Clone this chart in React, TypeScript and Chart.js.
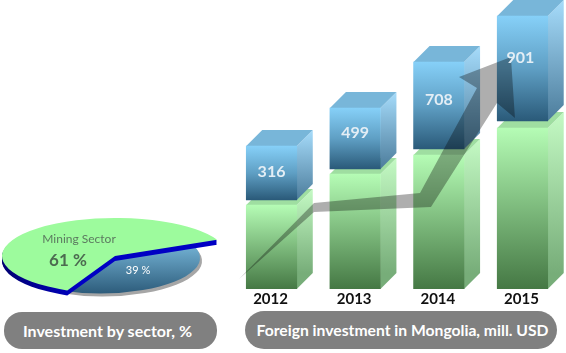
import React, { useEffect, useRef } from "react";
import { Chart, registerables } from "chart.js";

Chart.register(...registerables);

// Pie
const sectorNames = ["Mining Sector", "Other"];
const sectorShares = [61, 39];

// Columns (heights, in picture units)
const years = ["2012", "2013", "2014", "2015"];
const investmentLabels = ["316", "499", "708", "901"];
const greenTop = [84, 115, 134, 161];
const blueBase = [89, 120, 140, 168];
const blueTop = [143, 181, 227, 273];

// Growth arrow outline, x in category index, y in value units
const arrowX = [-0.388, 0.508, 1.775, 2.456, 2.241, 2.862, 2.91, 2.695, 1.906, 0.508];
const arrowY = [10, 86, 96, 201, 212, 232, 171, 186, 82, 77];

const FONT = "Lato, 'Open Sans', sans-serif";
const DEPTH = 16;
const LABEL_FRACTION = [0.48, 0.41, 0.43, 0.4];

function vGrad(ctx: CanvasRenderingContext2D, y0: number, y1: number, stops: string[]) {
  if (!Number.isFinite(y0) || !Number.isFinite(y1)) return stops[0] as any;
  const g = ctx.createLinearGradient(0, y0, 0, y1);
  stops.forEach((c, i) => g.addColorStop(i / (stops.length - 1), c));
  return g;
}

const columns3d = {
  id: "columns3d",
  beforeDatasetDraw(chart: any, args: any) {
    const { ctx } = chart;
    const isBlue = args.index === 0;
    const bars = chart.getDatasetMeta(args.index).data;
    bars.forEach((bar: any) => {
      const l = bar.x - bar.width / 2;
      const r = bar.x + bar.width / 2;
      const t = bar.y;
      const b = bar.base;
      ctx.save();
      ctx.fillStyle = isBlue
        ? vGrad(ctx, t - DEPTH, b, ["#a6dcfb", "#4c7c9b"])
        : vGrad(ctx, t - DEPTH, b - DEPTH, ["#c4fac4", "#77ad79"]);
      ctx.beginPath();
      ctx.moveTo(r, t);
      ctx.lineTo(r + DEPTH, t - DEPTH);
      ctx.lineTo(r + DEPTH, b - DEPTH);
      ctx.lineTo(r, b);
      ctx.closePath();
      ctx.fill();
      ctx.fillStyle = isBlue ? "#78b6d9" : "#9fdea1";
      ctx.beginPath();
      ctx.moveTo(l, t);
      ctx.lineTo(l + DEPTH, t - DEPTH);
      ctx.lineTo(r + DEPTH, t - DEPTH);
      ctx.lineTo(r, t);
      ctx.closePath();
      ctx.fill();
      ctx.restore();
    });
  },
  afterDatasetsDraw(chart: any) {
    const { ctx, scales } = chart;
    ctx.save();
    ctx.globalCompositeOperation = "multiply";
    ctx.fillStyle = "#aeaeae";
    ctx.beginPath();
    arrowX.forEach((v, i) => {
      const px = scales.x.getPixelForValue(v);
      const py = scales.y.getPixelForValue(arrowY[i]);
      if (i === 0) ctx.moveTo(px, py);
      else ctx.lineTo(px, py);
    });
    ctx.closePath();
    ctx.fill();
    ctx.restore();

    ctx.save();
    ctx.font = `bold 16px ${FONT}`;
    ctx.fillStyle = "#e4eef5";
    ctx.textAlign = "center";
    ctx.textBaseline = "middle";
    chart.getDatasetMeta(0).data.forEach((bar: any, i: number) => {
      const y = bar.y + (bar.base - bar.y) * LABEL_FRACTION[i];
      ctx.fillText(investmentLabels[i], bar.x - (i === 3 ? 2 : 0), y);
    });
    ctx.restore();
  },
};

const GREEN_Y = 56;
const GREEN_SQUASH = 0.336;
const BLUE_DX = -15;
const BLUE_Y = 58;
const BLUE_SQUASH = 0.354;
const BLUE_RX = 100;
const EDGE = 5;

function sliceRange(ctx: any, cx: number, cy: number, rx: number, ry: number, a0: number, a1: number) {
  ctx.beginPath();
  ctx.moveTo(cx, cy);
  ctx.ellipse(cx, cy, rx, ry, 0, a0, a1);
  ctx.closePath();
}

const pie3d = {
  id: "pie3d",
  beforeDatasetDraw(chart: any) {
    const { ctx } = chart;
    const [green, blue] = chart.getDatasetMeta(0).data;
    const rx = green.outerRadius;
    const cx = green.x;

    ctx.save();
    // lower slice with its grey rim
    const bx = cx + BLUE_DX;
    const bry = BLUE_RX * BLUE_SQUASH;
    ctx.fillStyle = "#a6a6a6";
    sliceRange(ctx, bx + 2, BLUE_Y + 3, BLUE_RX, bry, blue.startAngle, blue.endAngle);
    ctx.fill();
    ctx.fillStyle = vGrad(ctx, BLUE_Y - 14, BLUE_Y + bry, ["#75b4d6", "#2d5c7b"]);
    sliceRange(ctx, bx, BLUE_Y, BLUE_RX, bry, blue.startAngle, blue.endAngle);
    ctx.fill();

    // raised slice: blue edge, then green surface
    const edge = ctx.createLinearGradient(2, 0, 80, 0);
    edge.addColorStop(0, "#000070");
    edge.addColorStop(1, "#0000c4");
    ctx.fillStyle = edge;
    for (let k = EDGE; k >= 1; k--) {
      sliceRange(ctx, cx, GREEN_Y + k, rx, rx * GREEN_SQUASH, green.startAngle, green.endAngle);
      ctx.fill();
    }
    ctx.fillStyle = "#9dfb9d";
    sliceRange(ctx, cx, GREEN_Y, rx, rx * GREEN_SQUASH, green.startAngle, green.endAngle);
    ctx.fill();
    ctx.restore();
    return false;
  },
  afterDatasetsDraw(chart: any) {
    const { ctx } = chart;
    ctx.save();
    ctx.textAlign = "center";
    ctx.textBaseline = "middle";
    ctx.fillStyle = "#5c7a60";
    ctx.font = `12px ${FONT}`;
    ctx.fillText(sectorNames[0], 79, 39);
    ctx.fillStyle = "#4c6a50";
    ctx.font = `bold 17px ${FONT}`;
    ctx.fillText(`${sectorShares[0]} %`, 68, 61);
    ctx.fillStyle = "#ffffff";
    ctx.font = `11px ${FONT}`;
    ctx.fillText(`${sectorShares[1]} %`, 138, 70);
    ctx.restore();
  },
};

const pillStyle: React.CSSProperties = {
  position: "absolute",
  background: "#808080",
  color: "#ffffff",
  fontFamily: FONT,
  fontWeight: 700,
  display: "flex",
  alignItems: "center",
  justifyContent: "center",
  whiteSpace: "nowrap",
  boxSizing: "border-box",
};

export default function App() {
  const barRef = useRef<HTMLCanvasElement>(null);
  const pieRef = useRef<HTMLCanvasElement>(null);

  useEffect(() => {
    const common = { responsive: false, animation: false as const, events: [] as any[] };
    const bars = new Chart(barRef.current!, {
      type: "bar",
      data: {
        labels: years,
        datasets: [
          {
            label: "Foreign investment",
            data: blueBase.map((b, i) => [b, blueTop[i]]),
            barThickness: 50.5,
            grouped: false,
            borderSkipped: false,
            backgroundColor: (c: any) => {
              const s = c.chart.scales.y;
              const raw = c.raw;
              if (!raw || !s) return "#5f9fc4";
              return vGrad(c.chart.ctx, s.getPixelForValue(raw[1]), s.getPixelForValue(raw[0]), [
                "#86d0f8",
                "#5f9fc4",
                "#2a5a79",
              ]);
            },
          },
          {
            label: "Base",
            data: greenTop.map((v) => [0, v]),
            barThickness: 50.5,
            grouped: false,
            borderSkipped: false,
            backgroundColor: (c: any) => {
              const s = c.chart.scales.y;
              const raw = c.raw;
              if (!raw || !s) return "#7fbf7f";
              return vGrad(c.chart.ctx, s.getPixelForValue(raw[1]), s.getPixelForValue(raw[0]), [
                "#b5fcb5",
                "#457844",
              ]);
            },
          },
        ],
      } as any,
      options: {
        ...common,
        layout: { padding: { left: 229.7, right: 1.7, top: 0, bottom: 0 } },
        plugins: { legend: { display: false }, tooltip: { enabled: false }, title: { display: false } },
        scales: {
          x: {
            grid: { display: false, drawTicks: false },
            border: { display: false },
            afterFit: (s: any) => {
              s.height = 21;
            },
            ticks: {
              color: "#111111",
              padding: 1,
              labelOffset: -1,
              maxRotation: 0,
              font: { family: FONT, size: 15, weight: "bold" },
            },
          },
          y: { display: false, min: 0, max: 289 },
        },
      } as any,
      plugins: [columns3d],
    });

    const pie = new Chart(pieRef.current!, {
      type: "pie",
      data: {
        labels: sectorNames,
        datasets: [{ data: sectorShares, backgroundColor: ["#9dfb9d", "#4f86a8"], borderWidth: 0 }],
      },
      options: {
        ...common,
        rotation: 205,
        radius: 113,
        layout: { padding: { right: 10 } },
        plugins: { legend: { display: false }, tooltip: { enabled: false } },
      } as any,
      plugins: [pie3d],
    });

    return () => {
      bars.destroy();
      pie.destroy();
    };
  }, []);

  return (
    <div style={{ position: "fixed", left: 0, top: 0, width: 566, height: 353, overflow: "hidden", background: "#fff" }}>
      <canvas ref={barRef} width={566} height={310} style={{ position: "absolute", left: 0, top: 0, display: "block" }} />
      <canvas ref={pieRef} width={240} height={110} style={{ position: "absolute", left: 0, top: 200, display: "block" }} />
      <div style={{ ...pillStyle, left: 4, top: 312, width: 213, height: 37, borderRadius: 18, fontSize: 16, paddingRight: 6 }}>
        Investment by sector, %
      </div>
      <div style={{ ...pillStyle, left: 245, top: 311, width: 312, height: 38, borderRadius: 19, fontSize: 15.7, paddingLeft: 3 }}>
        Foreign investment in Mongolia, mill. USD
      </div>
    </div>
  );
}
